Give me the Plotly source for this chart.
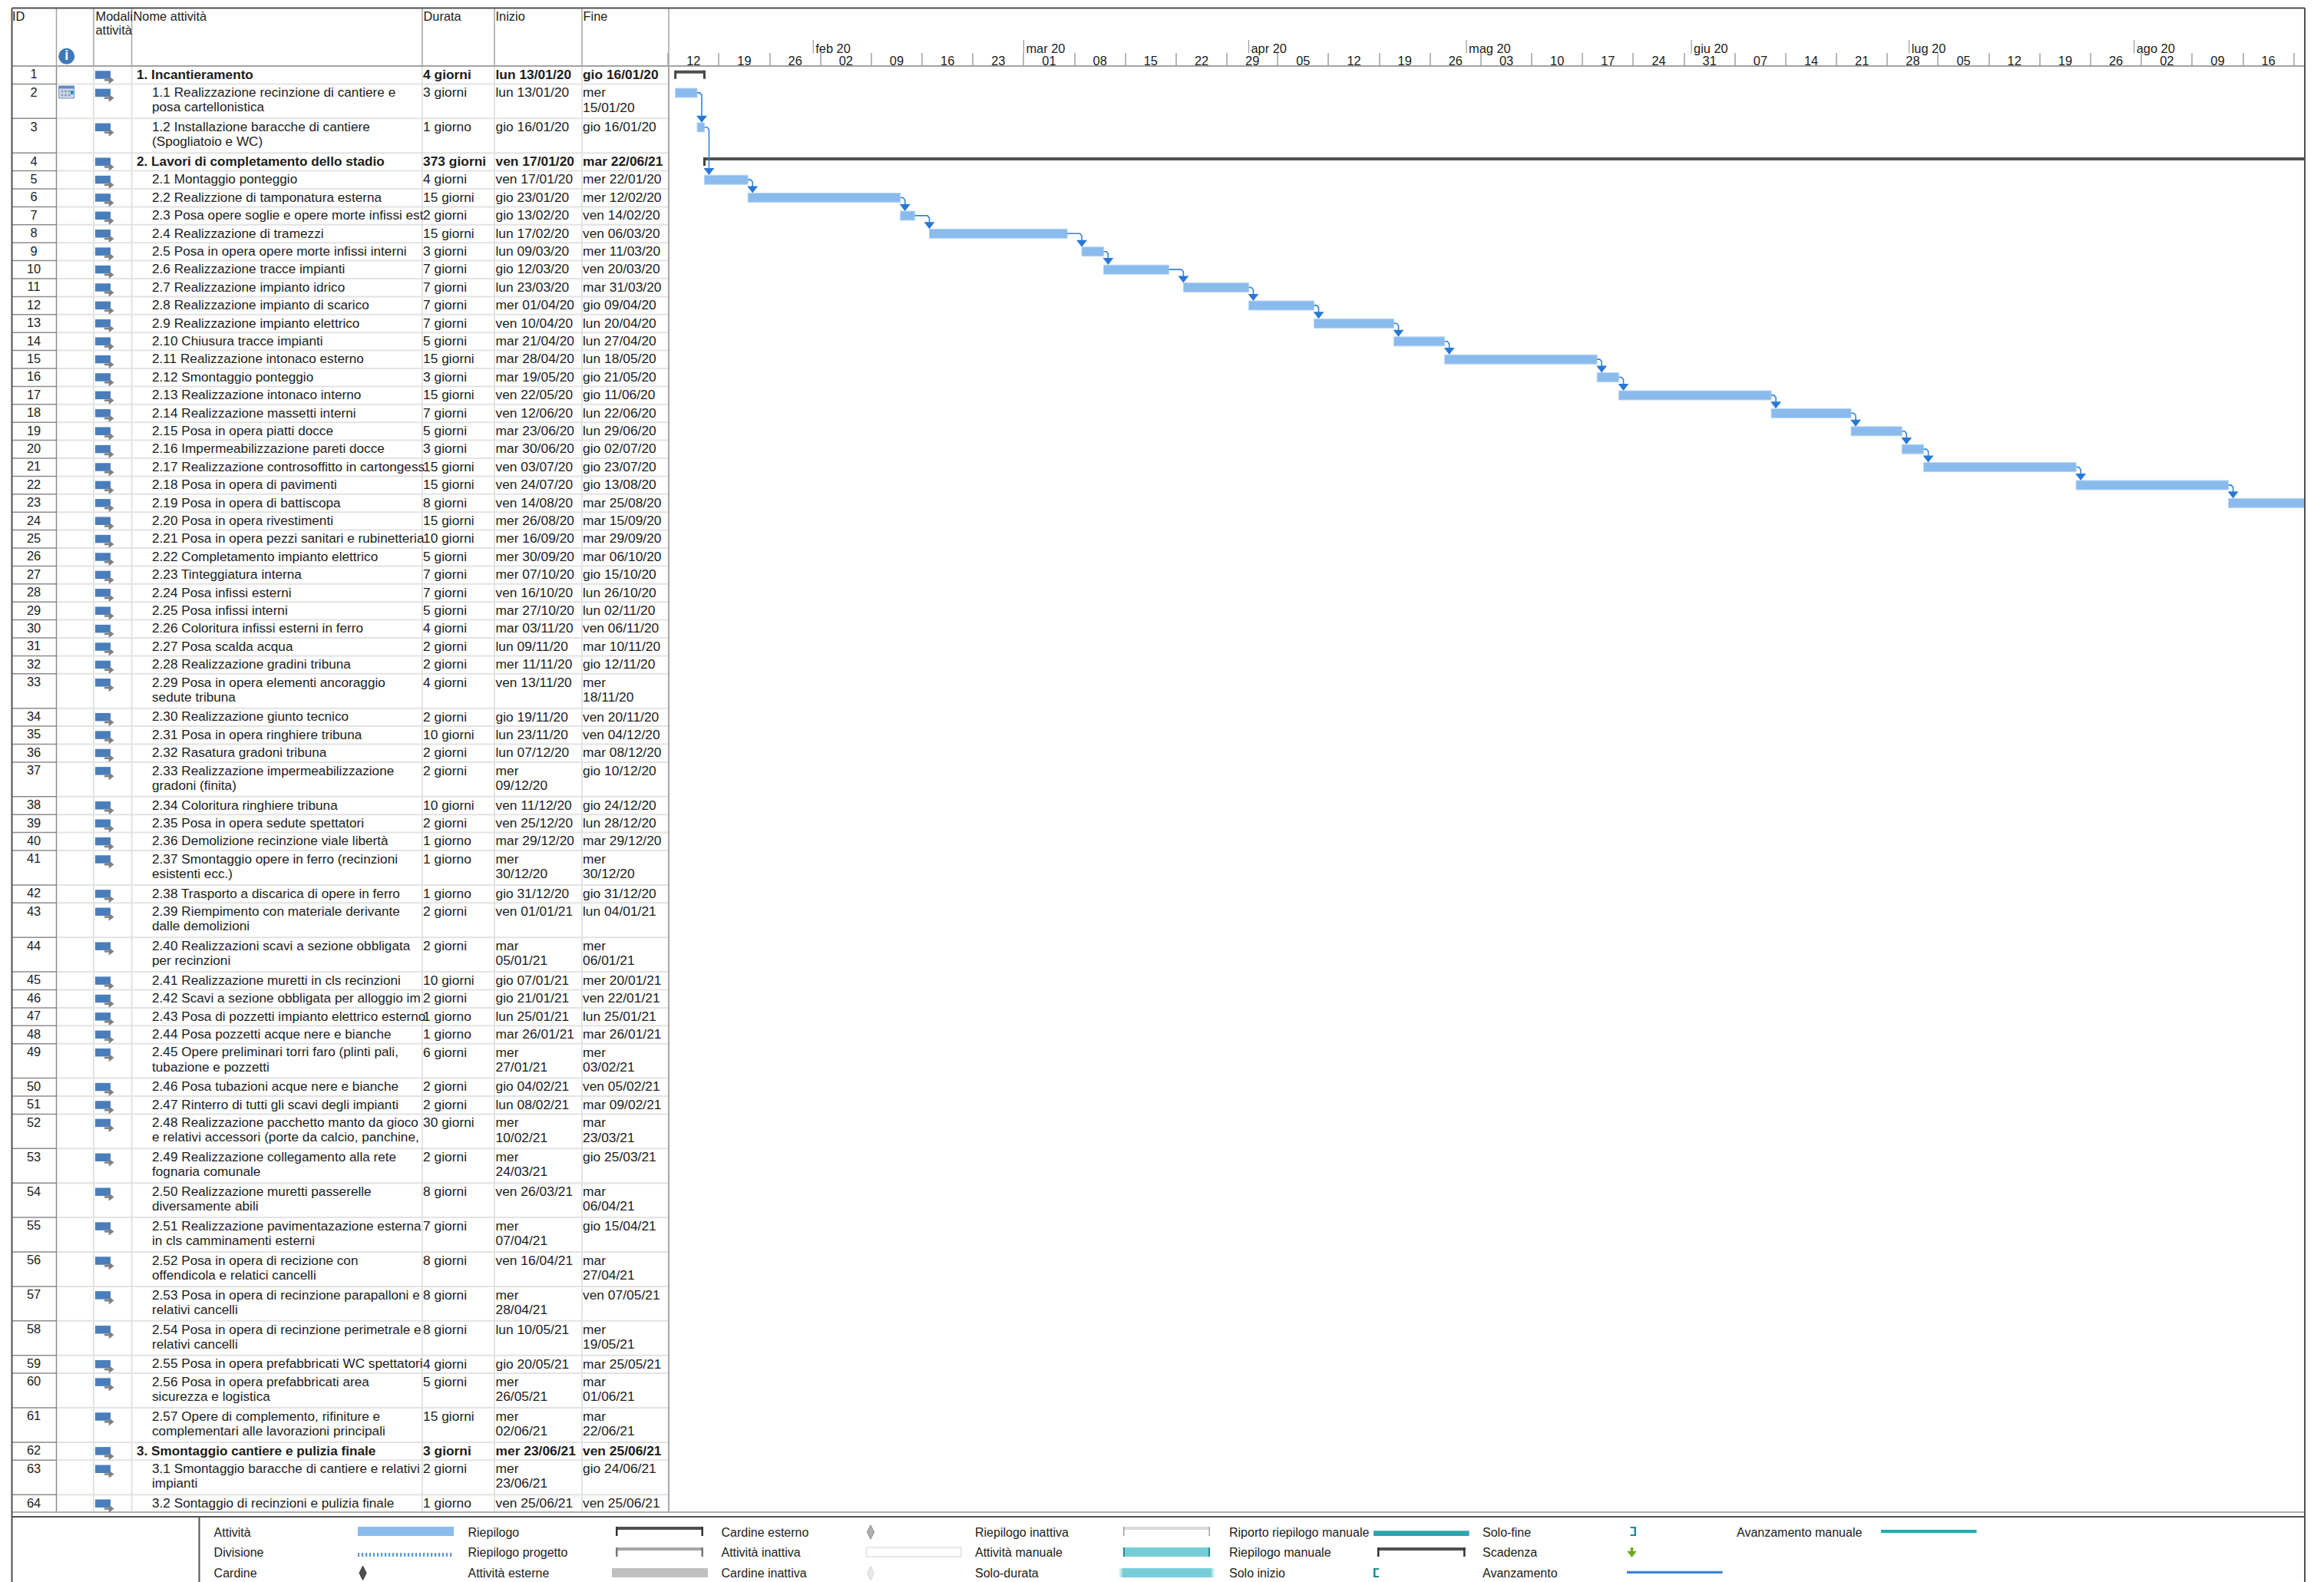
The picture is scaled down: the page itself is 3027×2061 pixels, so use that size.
from datetime import datetime, timedelta
import plotly.graph_objects as go

# ---- data ----
task_ids = list(range(1, 65))
task_names = [
"1. Incantieramento","1.1 Realizzazione recinzione di cantiere e\nposa cartellonistica","1.2 Installazione baracche di cantiere\n(Spogliatoio e WC)",
"2. Lavori di completamento dello stadio","2.1 Montaggio ponteggio","2.2 Realizzione di tamponatura esterna","2.3 Posa opere soglie e opere morte infissi est",
"2.4 Realizzazione di tramezzi","2.5 Posa in opera opere morte infissi interni","2.6 Realizzazione tracce impianti","2.7 Realizzazione impianto idrico",
"2.8 Realizzazione impianto di scarico","2.9 Realizzazione impianto elettrico","2.10 Chiusura tracce impianti","2.11 Realizzazione intonaco esterno",
"2.12 Smontaggio ponteggio","2.13 Realizzazione intonaco interno","2.14 Realizzazione massetti interni","2.15 Posa in opera piatti docce",
"2.16 Impermeabilizzazione pareti docce","2.17 Realizzazione controsoffitto in cartongess","2.18 Posa in opera di pavimenti","2.19 Posa in opera di battiscopa",
"2.20 Posa in opera rivestimenti","2.21 Posa in opera pezzi sanitari e rubinetteria","2.22 Completamento impianto elettrico","2.23 Tinteggiatura interna",
"2.24 Posa infissi esterni","2.25 Posa infissi interni","2.26 Coloritura infissi esterni in ferro","2.27 Posa scalda acqua","2.28 Realizzazione gradini tribuna",
"2.29 Posa in opera elementi ancoraggio\nsedute tribuna","2.30 Realizzazione giunto tecnico","2.31 Posa in opera ringhiere tribuna","2.32 Rasatura gradoni tribuna",
"2.33 Realizzazione impermeabilizzazione\ngradoni (finita)","2.34 Coloritura ringhiere tribuna","2.35 Posa in opera sedute spettatori","2.36 Demolizione recinzione viale libertà",
"2.37 Smontaggio opere in ferro (recinzioni\nesistenti ecc.)","2.38 Trasporto a discarica di opere in ferro","2.39 Riempimento con materiale derivante\ndalle demolizioni",
"2.40 Realizzazioni scavi a sezione obbligata\nper recinzioni","2.41 Realizzazione muretti in cls recinzioni","2.42 Scavi a sezione obbligata per alloggio im",
"2.43 Posa di pozzetti impianto elettrico esterno","2.44 Posa pozzetti acque nere e bianche","2.45 Opere preliminari torri faro (plinti pali,\ntubazione e pozzetti",
"2.46 Posa tubazioni acque nere e bianche","2.47 Rinterro di tutti gli scavi degli impianti","2.48 Realizzazione pacchetto manto da gioco\ne relativi accessori (porte da calcio, panchine,",
"2.49 Realizzazione collegamento alla rete\nfognaria comunale","2.50 Realizzazione muretti passerelle\ndiversamente abili","2.51 Realizzazione pavimentazazione esterna\nin cls camminamenti esterni",
"2.52 Posa in opera di recizione con\noffendicola e relatici cancelli","2.53 Posa in opera di recinzione parapalloni e\nrelativi cancelli",
"2.54 Posa in opera di recinzione perimetrale e\nrelativi cancelli","2.55 Posa in opera prefabbricati WC spettatori","2.56 Posa in opera prefabbricati area\nsicurezza e logistica",
"2.57 Opere di complemento, rifiniture e\ncomplementari alle lavorazioni principali","3. Smontaggio cantiere e pulizia finale","3.1 Smontaggio baracche di cantiere e relativi\nimpianti",
"3.2 Sontaggio di recinzioni e pulizia finale"]
task_durations = ["4 giorni","3 giorni","1 giorno","373 giorni","4 giorni","15 giorni","2 giorni","15 giorni","3 giorni","7 giorni","7 giorni","7 giorni","7 giorni","5 giorni","15 giorni","3 giorni",
"15 giorni","7 giorni","5 giorni","3 giorni","15 giorni","15 giorni","8 giorni","15 giorni","10 giorni","5 giorni","7 giorni","7 giorni","5 giorni","4 giorni","2 giorni","2 giorni","4 giorni",
"2 giorni","10 giorni","2 giorni","2 giorni","10 giorni","2 giorni","1 giorno","1 giorno","1 giorno","2 giorni","2 giorni","10 giorni","2 giorni","1 giorno","1 giorno","6 giorni","2 giorni","2 giorni",
"30 giorni","2 giorni","8 giorni","7 giorni","8 giorni","8 giorni","8 giorni","4 giorni","5 giorni","15 giorni","3 giorni","2 giorni","1 giorno"]
task_starts = ["lun 13/01/20","lun 13/01/20","gio 16/01/20","ven 17/01/20","ven 17/01/20","gio 23/01/20","gio 13/02/20","lun 17/02/20","lun 09/03/20","gio 12/03/20","lun 23/03/20","mer 01/04/20",
"ven 10/04/20","mar 21/04/20","mar 28/04/20","mar 19/05/20","ven 22/05/20","ven 12/06/20","mar 23/06/20","mar 30/06/20","ven 03/07/20","ven 24/07/20","ven 14/08/20","mer 26/08/20","mer 16/09/20",
"mer 30/09/20","mer 07/10/20","ven 16/10/20","mar 27/10/20","mar 03/11/20","lun 09/11/20","mer 11/11/20","ven 13/11/20","gio 19/11/20","lun 23/11/20","lun 07/12/20","mer\n09/12/20","ven 11/12/20",
"ven 25/12/20","mar 29/12/20","mer\n30/12/20","gio 31/12/20","ven 01/01/21","mar\n05/01/21","gio 07/01/21","gio 21/01/21","lun 25/01/21","mar 26/01/21","mer\n27/01/21","gio 04/02/21","lun 08/02/21",
"mer\n10/02/21","mer\n24/03/21","ven 26/03/21","mer\n07/04/21","ven 16/04/21","mer\n28/04/21","lun 10/05/21","gio 20/05/21","mer\n26/05/21","mer\n02/06/21","mer 23/06/21","mer\n23/06/21","ven 25/06/21"]
task_ends = ["gio 16/01/20","mer\n15/01/20","gio 16/01/20","mar 22/06/21","mer 22/01/20","mer 12/02/20","ven 14/02/20","ven 06/03/20","mer 11/03/20","ven 20/03/20","mar 31/03/20","gio 09/04/20",
"lun 20/04/20","lun 27/04/20","lun 18/05/20","gio 21/05/20","gio 11/06/20","lun 22/06/20","lun 29/06/20","gio 02/07/20","gio 23/07/20","gio 13/08/20","mar 25/08/20","mar 15/09/20","mar 29/09/20",
"mar 06/10/20","gio 15/10/20","lun 26/10/20","lun 02/11/20","ven 06/11/20","mar 10/11/20","gio 12/11/20","mer\n18/11/20","ven 20/11/20","ven 04/12/20","mar 08/12/20","gio 10/12/20","gio 24/12/20",
"lun 28/12/20","mar 29/12/20","mer\n30/12/20","gio 31/12/20","lun 04/01/21","mer\n06/01/21","mer 20/01/21","ven 22/01/21","lun 25/01/21","mar 26/01/21","mer\n03/02/21","ven 05/02/21","mar 09/02/21",
"mar\n23/03/21","gio 25/03/21","mar\n06/04/21","gio 15/04/21","mar\n27/04/21","ven 07/05/21","mer\n19/05/21","mar 25/05/21","mar\n01/06/21","mar\n22/06/21","ven 25/06/21","gio 24/06/21","ven 25/06/21"]
summary_ids = [1, 4, 62]
week_labels_start = "2020-01-12"
month_starts = ["2020-02-01","2020-03-01","2020-04-01","2020-05-01","2020-06-01","2020-07-01","2020-08-01"]
month_labels = ["feb 20","mar 20","apr 20","mag 20","giu 20","lug 20","ago 20"]
legend_labels = [
 ["Attività","Divisione","Cardine"],["Riepilogo","Riepilogo progetto","Attività esterne"],["Cardine esterno","Attività inattiva","Cardine inattiva"],
 ["Riepilogo inattiva","Attività manuale","Solo-durata"],["Riporto riepilogo manuale","Riepilogo manuale","Solo inizio"],["Solo-fine","Scadenza","Avanzamento"],["Avanzamento manuale"]]

# ---- geometry (page pixels) ----
W, H = 3027, 2061
FONT = "Liberation Sans"
TXT = "#1c1c1c"
TS, DS = 17.2, 17.4
TY = 1.5   # text centring correction
BLUE, SUM, LINK = "#8ABBED", "#505050", "#3483DB"
LIGHT, MID = "#E3E3E3", "#8C8C8C"
L, R, TOP, HB, TB, LB = 15.5, 3002, 10.5, 86, 1970, 1976
cols = [73.5, 122, 171.6, 550, 644, 758, 871]
X0, X1 = 870.2, 3002
DAY = 9.453
ROW1, ROW2 = 23.4, 44.9

def d(s):
    return datetime.strptime(s.replace("\n", " ").split()[1], "%d/%m/%y")

tops, y = [], HB
for n in task_names:
    tops.append(y)
    y += ROW2 if "\n" in n else ROW1
bottoms = tops[1:] + [y]
px = lambda p: p / DAY          # pixels expressed as days on the time axis
origin = datetime.fromisoformat(week_labels_start)
x_end = origin + timedelta(days=(X1 - X0) / DAY)
week_starts = [origin + timedelta(days=7 * i) for i in range(33)]
week_mid = [w + timedelta(days=3.5) for w in week_starts]

fig = go.Figure()
is_sum = [i in summary_ids for i in task_ids]

# table text: one trace per column
def text_col(xv, rows, offs, size=DS, bold_sum=True, pos="middle right"):
    xs, ys, ts = [], [], []
    for i, t in enumerate(rows):
        for j, line in enumerate(str(t).split("\n")):
            xs.append(xv); ys.append(tops[i] + offs + TY + j * 19.3)
            ts.append(f"<b>{line}</b>" if (bold_sum and is_sum[i]) else line)
    fig.add_trace(go.Scatter(x=xs, y=ys, text=ts, mode="text", textposition=pos, xaxis="x2", yaxis="y",
                             textfont=dict(family=FONT, size=size, color=TXT), hoverinfo="skip", showlegend=False, cliponaxis=False))

# bars
leaf = [i for i in range(64) if not is_sum[i]]
fig.add_trace(go.Bar(orientation="h", base=[d(task_starts[i]) for i in leaf],
    x=[(d(task_ends[i]) + timedelta(days=1) - d(task_starts[i])).total_seconds() * 1000 for i in leaf],
    y=[tops[i] + 11.6 for i in leaf], width=12, xaxis="x", yaxis="y", showlegend=False,
    marker=dict(color=BLUE, line=dict(color="#B7D5F4", width=1)), hovertext=[task_names[i] for i in leaf], hoverinfo="text"))

# summary bars
fig.add_trace(go.Bar(orientation="h", base=[d(task_starts[i]) for i, s in enumerate(is_sum) if s],
    x=[(d(task_ends[i]) + timedelta(days=1) - d(task_starts[i])).total_seconds() * 1000 for i, s in enumerate(is_sum) if s],
    y=[tops[i] + 7.7 for i, s in enumerate(is_sum) if s], width=4, xaxis="x", yaxis="y", showlegend=False,
    marker=dict(color=SUM, line=dict(width=0)), hoverinfo="skip"))
cx, cy = [], []
for i, s in enumerate(is_sum):
    if s:
        a = d(task_starts[i]); b = d(task_ends[i]) + timedelta(days=1)
        for v in (a, b):
            cx += [v, v, None]; cy += [tops[i] + 5.7, tops[i] + 16.8, None]
fig.add_trace(go.Scatter(x=cx, y=cy, mode="lines", line=dict(color="#444444", width=3), xaxis="x", yaxis="y", showlegend=False, hoverinfo="skip"))

# links between consecutive tasks
lx, ly, ax, ay = [], [], [], []
for a, b in zip(leaf[:-1], leaf[1:]):
    end = d(task_ends[a]) + timedelta(days=1)
    start = d(task_starts[b])
    tx = max(start, end + timedelta(days=px(6)))
    ym = tops[a] + 11.5
    ytip = tops[b] + 5.5
    lx += [end, tx - timedelta(days=px(2.5)), tx, tx, None]
    ly += [ym, ym, ym + 3, ytip - 5, None]
    ax.append(tx); ay.append(ytip - 6)
fig.add_trace(go.Scatter(x=lx, y=ly, mode="lines", line=dict(color=LINK, width=1.6), xaxis="x", yaxis="y", showlegend=False, hoverinfo="skip"))
fig.add_trace(go.Scatter(x=ax, y=ay, mode="markers", marker=dict(symbol="triangle-down", size=12, color="#2878D8", line=dict(width=0)),
                         xaxis="x", yaxis="y", showlegend=False, hoverinfo="skip"))

# month scale
mdates = [datetime.fromisoformat(m) for m in month_starts]
mx, my = [], []
for m in mdates:
    mx += [m, m, None]; my += [52, 69.5, None]
fig.add_trace(go.Scatter(x=mx, y=my, mode="lines", line=dict(color="#999999", width=1.2), xaxis="x", yaxis="y", showlegend=False, hoverinfo="skip"))
fig.add_trace(go.Scatter(x=[m + timedelta(days=px(3)) for m in mdates], y=[63 + TY] * 7, text=month_labels, mode="text", textposition="middle right",
                         textfont=dict(family=FONT, size=16.4, color=TXT), xaxis="x", yaxis="y", showlegend=False, hoverinfo="skip"))

# table grid
def lines(segs, color, width):
    xs, ys = [], []
    for x1, y1, x2, y2 in segs:
        xs += [x1, x2, None]; ys += [y1, y2, None]
    fig.add_trace(go.Scatter(x=xs, y=ys, mode="lines", line=dict(color=color, width=width), xaxis="x2", yaxis="y",
                             showlegend=False, hoverinfo="skip", cliponaxis=False))

lines([(cols[0], b, cols[-1], b) for b in bottoms[:-1]] + [(c, HB, c, TB) for c in cols[1:-1]], LIGHT, 2)
lines([(L, b, cols[0], b) for b in bottoms[:-1]] + [(cols[0], HB, cols[0], TB), (cols[-1], HB, cols[-1], TB)], MID, 1.5)
lines([(c, TOP, c, HB) for c in cols], "#A3A3A3", 1.5)
lines([(L, HB, R, HB)], "#A3A3A3", 2)
lines([(L, TB, R, TB)], "#B0B0B0", 2)
lines([(L, TOP, R, TOP), (L, TOP, L, H), (R, TOP, R, H), (L, LB, R, LB), (259.5, LB, 259.5, H)], "#505050", 2)

# mode icons
ix, iy, gx, gy, mx2, my2 = [], [], [], [], [], []
for t in tops:
    ix += [124, 144, None]; iy += [t + 11.5, t + 11.5, None]
    gx += [136, 143.5, None]; gy += [t + 18.3, t + 18.3, None]
    mx2.append(144); my2.append(t + 18.3)
fig.add_trace(go.Scatter(x=ix, y=iy, mode="lines", line=dict(color="#4A7EBB", width=10.5), xaxis="x2", yaxis="y", showlegend=False, hoverinfo="skip", cliponaxis=False))
fig.add_trace(go.Scatter(x=gx, y=gy, mode="lines", line=dict(color="#808080", width=2.5), xaxis="x2", yaxis="y", showlegend=False, hoverinfo="skip", cliponaxis=False))
fig.add_trace(go.Scatter(x=mx2, y=my2, mode="markers", marker=dict(symbol="triangle-right", size=9, color="#808080"), xaxis="x2", yaxis="y", showlegend=False, hoverinfo="skip", cliponaxis=False))

# table columns
text_col(44, task_ids, 10.8, size=16.4, bold_sum=False, pos="middle center")
for flag, xv in ((True, 178), (False, 198)):
    ids = [i for i, s in enumerate(is_sum) if s == flag]
    xs, ys, ts = [], [], []
    for i in ids:
        for j, line in enumerate(task_names[i].split("\n")):
            xs.append(xv); ys.append(tops[i] + 11 + TY + j * 19.3)
            ts.append(f"<b>{line}</b>" if flag else line)
    fig.add_trace(go.Scatter(x=xs, y=ys, text=ts, mode="text", textposition="middle right", xaxis="x2", yaxis="y",
                             textfont=dict(family=FONT, size=TS, color=TXT), hoverinfo="skip", showlegend=False, cliponaxis=False))
text_col(551, task_durations, 11)
text_col(645.5, task_starts, 11)
text_col(759, task_ends, 11)

# header
hx = [16, 124.5, 124.5, 173.5, 551.5, 645.5, 759.5]
hy = [21.5, 21.5, 39, 21.5, 21.5, 21.5, 21.5]
header_labels = ["ID", "Modali", "attività", "Nome attività", "Durata", "Inizio", "Fine"]
fig.add_trace(go.Scatter(x=hx, y=[v + TY for v in hy], text=header_labels, mode="text", textposition="middle right", xaxis="x2", yaxis="y",
                         textfont=dict(family=FONT, size=16.4, color=TXT), hoverinfo="skip", showlegend=False, cliponaxis=False))
fig.add_trace(go.Scatter(x=[86.7], y=[73.3], mode="markers+text", text=["<b>i</b>"], textposition="middle center", xaxis="x2", yaxis="y",
                         marker=dict(size=21, color="#3F78B8"), textfont=dict(family=FONT, size=18, color="white"), hoverinfo="skip", showlegend=False, cliponaxis=False))

# legend text
leg_x = [278.6, 609.5, 939.5, 1270, 1601, 1931, 2262]
leg_y = [1996, 2022.7, 2049.3]
for xv, labs in zip(leg_x, legend_labels):
    fig.add_trace(go.Scatter(x=[xv] * len(labs), y=[v + TY for v in leg_y[:len(labs)]], text=labs, mode="text", textposition="middle right", xaxis="x2", yaxis="y",
                             textfont=dict(family=FONT, size=16, color=TXT), hoverinfo="skip", showlegend=False, cliponaxis=False))

# legend symbols
shapes = []
def rect(x0, y0, x1, y1, color, line=None, lw=0):
    shapes.append(dict(type="rect", xref="x2", yref="y", x0=x0, y0=y0, x1=x1, y1=y1, fillcolor=color, layer="above",
                       line=dict(color=line or color, width=lw)))
def sumbar(x0, x1, y0, bar, cap, capw=2.5):
    rect(x0, y0, x1, y0 + 4, bar)
    rect(x0, y0, x0 + capw, y0 + 12, cap)
    rect(x1 - capw, y0, x1, y0 + 12, cap)
rect(466, 1989, 591, 2001, BLUE)
lx0 = 466
while lx0 < 590:
    rect(lx0, 2023, lx0 + 2.2, 2028, "#5B9BD5"); lx0 += 5
sumbar(802, 916, 1989, SUM, "#333333")
sumbar(802, 916, 2016, "#A6A6A6", "#777777")
rect(797, 2043, 922, 2055, "#C0C0C0")
rect(1128.5, 2016, 1252, 2028, "white", "#E0E0E0", 1.5)
sumbar(1463, 1576, 1989, "#DADADA", "#A0A0A0", 1.5)
rect(1463, 2016, 1576, 2028, "#76CDD8")
rect(1463, 2016, 1465, 2028, "#1F8A98"); rect(1574, 2016, 1576, 2028, "#1F8A98")
rect(1462, 2043, 1578, 2055, "#76CDD8")
for k, c in enumerate(["#DDF2F5", "#C0E8ED", "#A0DDE4"]):
    rect(1457.5 + k * 1.5, 2043, 1459 + k * 1.5, 2055, c)
    rect(1580.5 - k * 1.5, 2043, 1582 - k * 1.5, 2055, c)
rect(1789, 1994.3, 1913.6, 2001, "#2BA6B0")
sumbar(1794, 1908.6, 2016, SUM, "#333333")
rect(1789, 2043, 1791.5, 2055, "#1F8A98"); rect(1789, 2043, 1796, 2045, "#1F8A98"); rect(1789, 2053, 1796, 2055, "#1F8A98")
rect(2128.5, 1989, 2131, 2001, "#1F8A98"); rect(2123.5, 1989, 2131, 1991, "#1F8A98"); rect(2123.5, 1999, 2131, 2001, "#1F8A98")
rect(2119, 2046.7, 2243.6, 2050, "#3F85D5")
rect(2450, 1993, 2574.5, 1997, "#2BA6B0")
# calendar indicator for task 2
rect(76.7, 112, 96.5, 128, "#D3DDEC", "#6E8FBC", 1)
rect(76.7, 112, 96.5, 115.5, "#5F8CC6")
for cxx in (79.5, 84, 88.5):
    for cyy in (117.5, 122.5):
        rect(cxx, cyy, cxx + 3, cyy + 3, "#8F9DB3")
rect(92, 118, 95.5, 123, "#1E8FD0")

# legend markers
fig.add_trace(go.Scatter(x=[472.6, 1134, 1134], y=[2049.3, 1996, 2049.3], mode="markers", xaxis="x2", yaxis="y",
    marker=dict(symbol="diamond-tall", size=13, color=["#505050", "#B0B0B0", "#E8E8E8"], line=dict(color=["#333333", "#8C8C8C", "#D8D8D8"], width=1)),
    hoverinfo="skip", showlegend=False, cliponaxis=False))
fig.add_trace(go.Scatter(x=[2125.5, 2125.5, None], y=[2016, 2022, None], mode="lines", line=dict(color="#6FA820", width=3.5), xaxis="x2", yaxis="y", hoverinfo="skip", showlegend=False, cliponaxis=False))
fig.add_trace(go.Scatter(x=[2125.5], y=[2023.5], mode="markers", marker=dict(symbol="triangle-down", size=11, color="#6FA820"), xaxis="x2", yaxis="y", hoverinfo="skip", showlegend=False, cliponaxis=False))

fig.update_layout(
    width=W, height=H, autosize=False, margin=dict(l=0, r=0, t=0, b=0), paper_bgcolor="white", plot_bgcolor="rgba(0,0,0,0)",
    barmode="overlay", showlegend=False, hovermode="closest", shapes=shapes,
    xaxis=dict(type="date", domain=[X0 / W, X1 / W], range=[origin, x_end], anchor="free", position=1 - HB / H, side="top",
               tickmode="array", tickvals=week_mid, ticktext=[f"{w.day:02d}" for w in week_starts], ticks="", showgrid=False, zeroline=False, showline=False,
               tickfont=dict(family=FONT, size=16.4, color=TXT), ticklabelstandoff=-2,
               minor=dict(tickmode="array", tickvals=week_starts, ticks="outside", ticklen=17, tickcolor="#B8B8B8", tickwidth=1.5, showgrid=False)),
    xaxis2=dict(domain=[0, 1], range=[0, W], anchor="y", visible=False),
    yaxis=dict(domain=[0, 1], range=[H, 0], visible=False),
)
fig.write_html("out.html", config=dict(displayModeBar=False),
               post_script="document.body.style.margin='0';document.documentElement.style.overflow='hidden';window.dispatchEvent(new Event('resize'));")
